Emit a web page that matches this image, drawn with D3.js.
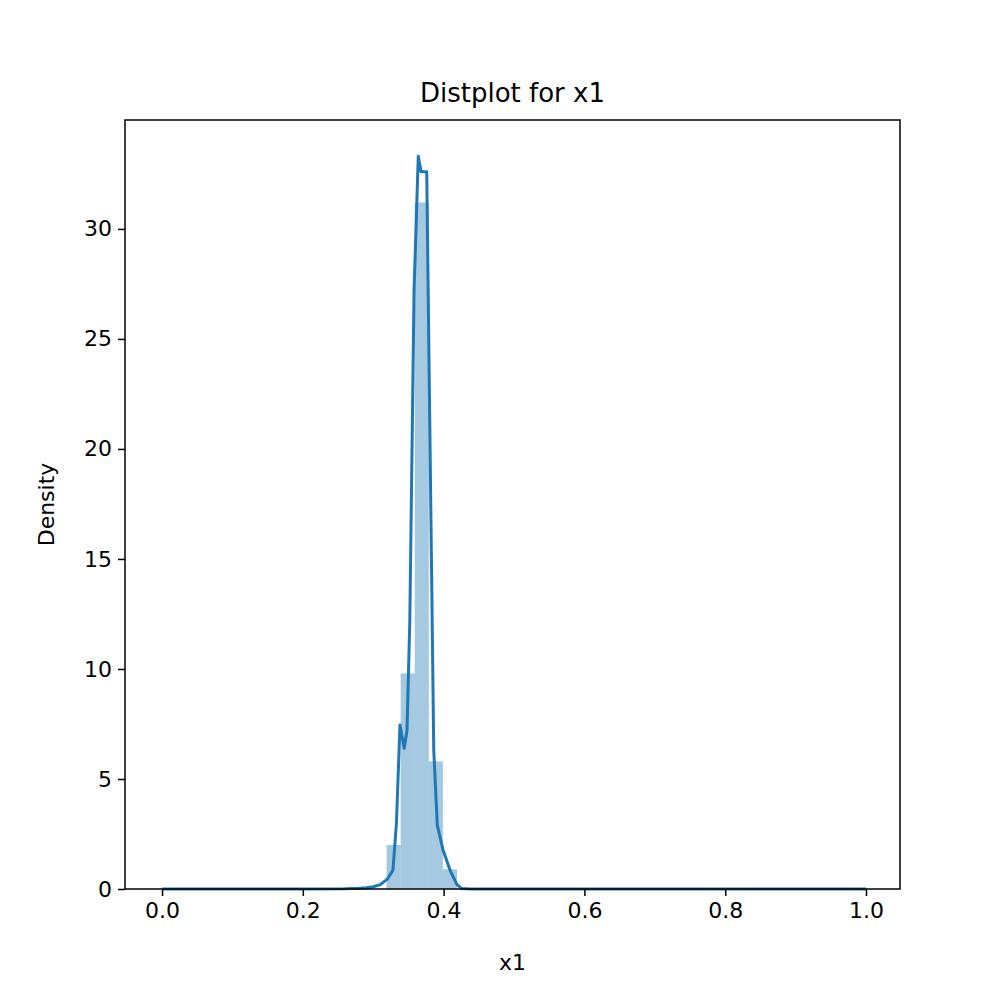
<!DOCTYPE html><html><head><script src="https://cdn.jsdelivr.net/npm/d3@7"></script>
<style>body{margin:0;background:#fff}text{font-family:"DejaVu Sans",sans-serif}</style></head><body>
<svg id="c" width="1000" height="1000"></svg>
<script>
const binStarts=[0.319,0.339,0.359,0.379,0.399];
const binWidth=0.02;
const binHeights=[2.0,9.8,31.2,5.8,0.9];
const kdeX=[0,0.1,0.2,0.26,0.28,0.29,0.30,0.31,0.32,0.328,0.333,0.338,0.344,0.348,0.352,0.358,0.364,0.368,0.376,0.382,0.386,0.391,0.399,0.409,0.419,0.426,0.44,0.5,0.6,0.8,1.0];
const kdeY=[0,0,0,0.01,0.03,0.06,0.1,0.2,0.45,0.85,3.0,7.45,6.4,7.2,12.2,27.2,33.3,32.6,32.6,16.8,6.3,2.9,1.8,0.86,0.2,0.02,0,0,0,0,0];
const xTicks=[0,0.2,0.4,0.6,0.8,1.0];
const yTicks=[0,5,10,15,20,25,30];
const svg=d3.select("#c");
const L=125,R=900,T=120,B=889;
const x=d3.scaleLinear().domain([-0.0526,1.0483]).range([L,R]);
const y=d3.scaleLinear().domain([0,34.95]).range([B,T]);
svg.selectAll("rect.b").data(binStarts).join("rect").attr("x",d=>x(d)).attr("width",(d)=>x(d+binWidth)-x(d))
 .attr("y",(d,i)=>y(binHeights[i])).attr("height",(d,i)=>B-y(binHeights[i])).attr("fill","#1f77b4").attr("fill-opacity",0.4);
svg.append("path").datum(kdeX.map((d,i)=>[d,kdeY[i]])).attr("d",d3.line().x(d=>x(d[0])).y(d=>y(d[1])))
 .attr("fill","none").attr("stroke","#1f77b4").attr("stroke-width",3).attr("stroke-linejoin","round");
svg.append("g").attr("transform",`translate(0,${B})`).call(d3.axisBottom(x).tickValues(xTicks).tickFormat(d3.format(".1f")).tickSize(7).tickPadding(6))
 .call(g=>{g.select(".domain").remove();g.selectAll("text").attr("font-size",22).attr("fill","#000");g.selectAll("line").attr("stroke","#000").attr("stroke-width",1.5);});
svg.append("g").attr("transform",`translate(${L},0)`).call(d3.axisLeft(y).tickValues(yTicks).tickSize(7).tickPadding(6))
 .call(g=>{g.select(".domain").remove();g.selectAll("text").attr("font-size",22).attr("fill","#000");g.selectAll("line").attr("stroke","#000").attr("stroke-width",1.5);});
svg.append("rect").attr("x",L).attr("y",T).attr("width",R-L).attr("height",B-T).attr("fill","none").attr("stroke","#000").attr("stroke-width",1.5);
svg.append("text").attr("x",(L+R)/2).attr("y",102).attr("text-anchor","middle").attr("font-size",26).text("Distplot for x1");
svg.append("text").attr("x",(L+R)/2).attr("y",970).attr("text-anchor","middle").attr("font-size",22).text("x1");
svg.append("text").attr("transform",`translate(54,${(T+B)/2}) rotate(-90)`).attr("text-anchor","middle").attr("font-size",22).text("Density");
</script></body></html>
